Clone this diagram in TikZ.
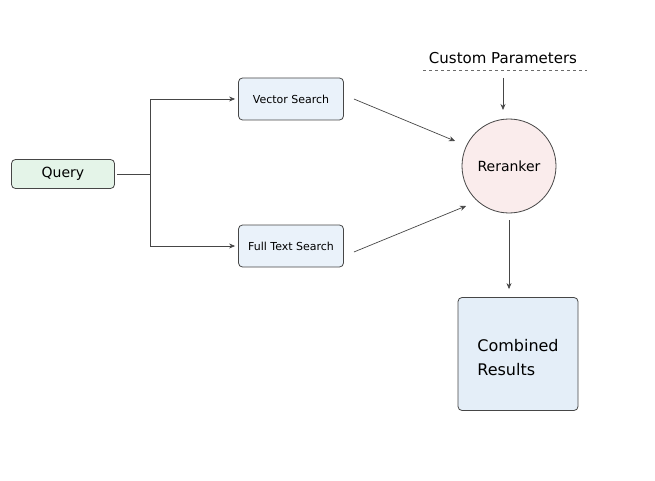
\documentclass[tikz,border=0pt]{standalone}
\usepackage{fontspec}
\setmainfont{DejaVu Sans}
\usepackage{xcolor}
\usetikzlibrary{arrows.meta, positioning, calc}

\definecolor{querygreen}{RGB}{228,244,232}
\definecolor{searchblue}{RGB}{234,242,250}
\definecolor{rerankpink}{RGB}{250,236,236}
\definecolor{resultblue}{RGB}{228,238,248}
\definecolor{edgegray}{RGB}{70,70,70}

\begin{document}
\begin{tikzpicture}[
        x=1pt, y=-1pt,
        box/.style={rectangle, draw=edgegray, line width=0.8pt, rounded corners=4pt, align=center, inner sep=0pt},
        query/.style={box, fill=querygreen, minimum width=103pt, minimum height=29pt, font=\fontsize{14}{16}\selectfont},
        search/.style={box, fill=searchblue, minimum width=105pt, minimum height=42pt, font=\fontsize{11}{13}\selectfont},
        rerank/.style={circle, draw=edgegray, line width=0.8pt, fill=rerankpink, minimum size=94pt, inner sep=0pt, font=\fontsize{14}{16}\selectfont},
        result/.style={box, fill=resultblue, minimum width=120pt, minimum height=113pt},
        resulttext/.style={align=left, inner sep=0pt, yshift=-4pt, font=\fontsize{16}{24}\selectfont},
        arrow/.style={-{Stealth[length=6pt, width=5pt]}, line width=0.7pt, draw=edgegray},
    ]
        \useasboundingbox (0,0) rectangle (655,481);

        % Nodes
        \node[query] (query) at (63,174) {Query};
        \node[search] (vector) at (291,99) {Vector Search};
        \node[search] (fulltext) at (291,246) {Full Text Search};
        \node[rerank] (reranker) at (509,166) {Reranker};
        \node[result, label={[resulttext]center:{Combined\\Results}}] (results) at (518,354) {};
        \node[font=\fontsize{15}{17}\selectfont, inner sep=2pt] (params) at (503,58) {Custom Parameters};
        \coordinate (split) at (150,174);
        \coordinate (paramstart) at (503,78);
        \coordinate (paramend) at (503,110);

        % Parameters underline
        \draw[dashed, line width=0.6pt, draw=edgegray!80] (423,70) -- (587,70);

        % Arrows
        \draw[line width=0.7pt, draw=edgegray] ([xshift=2pt]query.east) -- (split);
        \draw[arrow] (split) |- ([xshift=-3pt]vector.west);
        \draw[arrow] (split) |- ([xshift=-3pt]fulltext.west);
        \draw[arrow] ([xshift=10pt]vector.east) -- (455,141);
        \draw[arrow] ([xshift=10pt,yshift=-6pt]fulltext.east) -- (466,206);
        \draw[arrow] (paramstart) -- (paramend);
        \draw[arrow] ([yshift=-7pt]reranker.south) -- ([yshift=8pt]reranker.south |- results.north);
    \end{tikzpicture}
\end{document}
